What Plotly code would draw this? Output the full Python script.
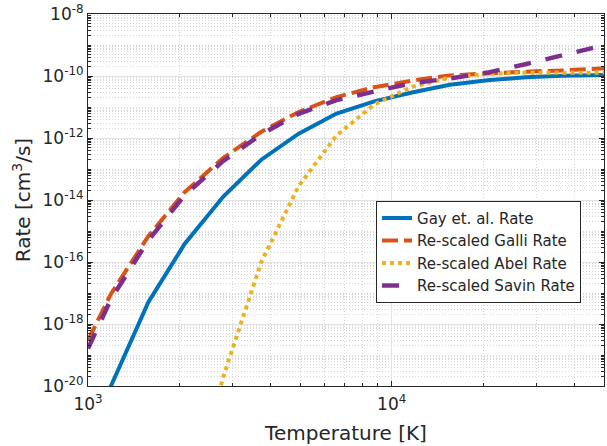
import numpy as np
import plotly.graph_objects as go

# Temperature grid [K]
temperature = [1000, 1190, 1580, 2080, 2790, 3720, 4940, 6580, 8760,
               11660, 15530, 20690, 27550, 36690, 50000]

# log10 of rates [cm^3/s]
gay_log = [-21.5, -20.0, -17.30, -15.42, -13.89, -12.70, -11.86, -11.21, -10.82,
           -10.53, -10.28, -10.14, -10.04, -9.99, -9.97]
galli_log = [-18.53, -17.03, -15.17, -13.75, -12.64, -11.80, -11.16, -10.68, -10.36,
             -10.15, -9.98, -9.91, -9.86, -9.82, -9.75]
abel_log = [-42.0, -37.0, -30.0, -24.3, -19.7, -16.0, -13.55, -11.92, -10.92,
            -10.35, -10.05, -9.93, -9.89, -9.90, -9.89]
savin_log = [-18.79, -17.20, -15.30, -13.85, -12.74, -11.88, -11.22, -10.78, -10.50,
             -10.23, -10.08, -9.89, -9.62, -9.32, -9.01]

series_names = ["Gay et. al. Rate", "Re-scaled Galli Rate",
                "Re-scaled Abel Rate", "Re-scaled Savin Rate"]
series_logs = [gay_log, galli_log, abel_log, savin_log]
colors = ["#0072BD", "#D95319", "#EDB120", "#7E2F8E"]
dashes = ["solid", "16px,6px", "4px,4px", "17px,15px"]
widths = [4, 4, 4, 4.5]

x_tick_vals = [1e3, 1e4]
x_tick_text = ["10<sup>3</sup>", "10<sup>4</sup>"]
y_tick_exps = [-20, -18, -16, -14, -12, -10, -8]

fig = go.Figure()
for name, logs, c, d, w in zip(series_names, series_logs, colors, dashes, widths):
    fig.add_trace(go.Scatter(
        x=temperature, y=[10.0 ** v for v in logs], mode="lines", name=name,
        line=dict(color=c, width=w, dash=d), cliponaxis=True))

x_minor = [k * 10.0 ** e for e in (3, 4) for k in range(2, 10) if k * 10.0 ** e <= 5e4]
y_minor = [k * 10.0 ** e for e in range(-20, -8) for k in range(1, 10)
           if not (k == 1 and e % 2 == 0)]

axis_col = "#262626"
font_fam = "DejaVu Sans"
major_grid = "#e2e2e2"
minor_grid = "#d6d6d6"

common = dict(ticks="inside", ticklen=5, tickcolor=axis_col, mirror="allticks",
              showline=True, linecolor=axis_col, linewidth=1,
              showgrid=True, gridcolor=major_grid, gridwidth=1,
              zeroline=False, tickfont=dict(size=17), ticklabeloverflow="allow")

fig.update_layout(
    width=607, height=446,
    margin=dict(l=88, r=2, t=11, b=60),
    paper_bgcolor="white", plot_bgcolor="white",
    font=dict(family=font_fam, color=axis_col, size=16),
    showlegend=True,
    legend=dict(x=0.9555, y=0.498, xanchor="right", yanchor="top",
                bgcolor="white", bordercolor=axis_col, borderwidth=1,
                font=dict(size=15, family=font_fam, color=axis_col),
                tracegroupgap=0, itemwidth=30),
    xaxis=dict(type="log", range=[3, np.log10(5e4)],
               tickmode="array", tickvals=x_tick_vals, ticktext=x_tick_text,
               ticklabelstandoff=3,
               title=dict(text="Temperature [K]", font=dict(size=20), standoff=12),
               minor=dict(tickmode="array", tickvals=x_minor, ticks="inside", ticklen=3,
                          tickcolor=axis_col, showgrid=True, gridcolor=minor_grid,
                          griddash="1px,2px", gridwidth=1),
               **common),
    yaxis=dict(type="log", range=[-20, -8],
               tickmode="array", tickvals=[10.0 ** e for e in y_tick_exps],
               ticktext=["10<sup>%d</sup>" % e for e in y_tick_exps],
               title=dict(text="Rate [cm<sup>3</sup>/s]", font=dict(size=20), standoff=6),
               minor=dict(tickmode="array", tickvals=y_minor, ticks="inside", ticklen=3,
                          tickcolor=axis_col, showgrid=True, gridcolor=minor_grid,
                          griddash="1px,2px", gridwidth=1),
               **common),
)

fig.write_html("out.html")
